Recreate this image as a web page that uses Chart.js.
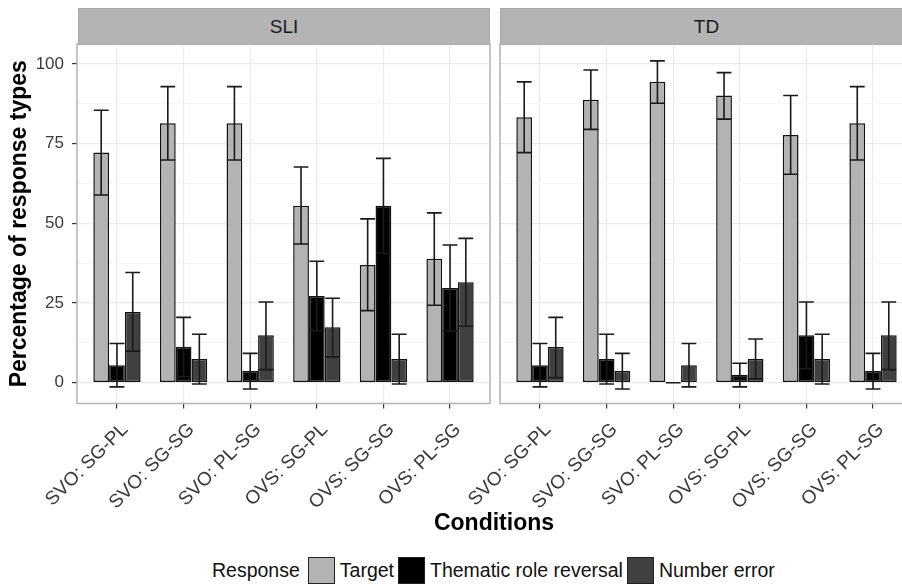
<!DOCTYPE html>
<html>
<head>
<meta charset="utf-8">
<script src="https://cdn.jsdelivr.net/npm/chart.js@4/dist/chart.umd.min.js"></script>
<style>
  html, body { margin:0; padding:0; width:902px; height:584px; overflow:hidden; background:#fff; font-family:"Liberation Sans", Arial, sans-serif; }
  #wrap { position:relative; width:902px; height:584px; overflow:hidden; }
  canvas { position:absolute; }
  .strip { position:absolute; top:8px; height:35px; background:#b4b4b4; border:1px solid #a6a6a6; border-bottom-color:#9a9a9a;
           color:#1a1a1a; font-size:19px; text-align:center; line-height:35px; box-sizing:content-box; }
  #xtitle { position:absolute; left:394px; width:200px; top:509px; text-align:center; font-weight:bold; font-size:23px; color:#000; }
  #legend { position:absolute; left:212px; top:556px; height:28px; display:flex; align-items:center; font-size:19.5px; color:#111; white-space:nowrap; }
  .key { width:25px; height:25px; border:1.5px solid #222; display:inline-block; }
</style>
</head>
<body>
<div id="wrap">
  <div class="strip" style="left:78px; width:410px;">SLI</div>
  <div class="strip" style="left:500px; width:411px;">TD</div>
  <canvas id="c1" width="492" height="470" style="left:0px; top:40px; width:492px; height:470px;"></canvas>
  <canvas id="c2" width="495" height="470" style="left:420px; top:40px; width:495px; height:470px;"></canvas>
  <div id="xtitle">Conditions</div>
  <div id="legend"></div>
</div>
<script>
// ---- data ----
const categories = ["SVO: SG-PL", "SVO: SG-SG", "SVO: PL-SG", "OVS: SG-PL", "OVS: SG-SG", "OVS: PL-SG"];
const seriesNames = ["Target", "Thematic role reversal", "Number error"];
const panels = ["SLI", "TD"];
const yMajorTicks = [0, 25, 50, 75, 100];
const yMinorTicks = [12.5, 37.5, 62.5, 87.5];

// SLI means and error bar [low, high]
const sliTarget   = [72.2, 81.4, 81.4, 55.5, 36.9, 38.9];
const sliTargetErr = [[58.9, 85.5], [69.9, 92.9], [69.9, 92.9], [43.5, 67.7], [22.6, 51.4], [24.3, 53.3]];
const sliThematic = [5.5, 11.2, 3.7, 27.2, 55.5, 29.7];
const sliThematicErr = [[-1.3, 12.3], [1.9, 20.5], [-2.0, 9.2], [16.3, 38.1], [40.6, 70.4], [16.2, 43.2]];
const sliNumber   = [22.2, 7.4, 14.9, 17.4, 7.4, 31.5];
const sliNumberErr = [[9.9, 34.6], [-0.4, 15.2], [4.1, 25.3], [8.1, 26.5], [-0.4, 15.2], [17.7, 45.3]];

// TD means and error bar [low, high]
const tdTarget   = [83.3, 88.8, 94.4, 90.1, 77.7, 81.4];
const tdTargetErr = [[72.2, 94.4], [79.5, 98.1], [87.7, 101.0], [82.7, 97.3], [65.4, 90.1], [69.9, 92.9]];
const tdThematic = [5.5, 7.4, 0, 2.5, 14.9, 3.7];
const tdThematicErr = [[-1.3, 12.3], [-0.4, 15.2], [0, 0], [-1.3, 6.1], [4.4, 25.3], [-2.0, 9.2]];
const tdNumber   = [11.2, 3.7, 5.5, 7.4, 7.4, 14.9];
const tdNumberErr = [[1.6, 20.5], [-2.0, 9.2], [-1.3, 12.3], [1.2, 13.7], [-0.4, 15.2], [4.1, 25.3]];

// ---- styles ----
const fills = ["#b3b3b3", "#000000", "#404040"];
const FONT = "'Liberation Sans', Arial, sans-serif";
const Y_MIN = -6.53, Y_MAX = 106.28;

const errorBarPlugin = {
  id: 'errorBars',
  afterDatasetsDraw(chart) {
    const ctx = chart.ctx;
    const ys = chart.scales.y;
    ctx.save();
    ctx.strokeStyle = '#1a1a1a';
    ctx.lineWidth = 1.6;
    chart.data.datasets.forEach((ds, d) => {
      const meta = chart.getDatasetMeta(d);
      meta.data.forEach((bar, i) => {
        const e = ds.errors[i];
        const x = bar.x, hw = bar.width * 0.47;
        const yl = ys.getPixelForValue(e[0]), yh = ys.getPixelForValue(e[1]);
        ctx.beginPath();
        ctx.moveTo(x, yl); ctx.lineTo(x, yh);
        ctx.moveTo(x - hw, yh); ctx.lineTo(x + hw, yh);
        ctx.moveTo(x - hw, yl); ctx.lineTo(x + hw, yl);
        ctx.stroke();
      });
    });
    ctx.restore();
  }
};
const borderPlugin = {
  id: 'panelBorder',
  afterDraw(chart) {
    const a = chart.chartArea, ctx = chart.ctx;
    ctx.save();
    ctx.strokeStyle = '#b3b3b3';
    ctx.lineWidth = 1.5;
    ctx.strokeRect(a.left, a.top, a.right - a.left, a.bottom - a.top);
    ctx.restore();
  }
};

function zeroPad(s) { s.paddingTop = 0; s.paddingBottom = 0; s.paddingLeft = 0; s.paddingRight = 0; }

function makeDatasets(vals, errs) {
  return vals.map((v, s) => ({
    label: seriesNames[s],
    data: v.map((y, i) => ({ x: i, y: y })),
    errors: errs[s],
    backgroundColor: fills[s],
    borderColor: '#111',
    borderWidth: 1.5,
    borderSkipped: false,
    categoryPercentage: 0.71,
    barPercentage: 1.0
  }));
}

function makeChart(id, vals, errs, showY, padLeft, padRight) {
  return new Chart(document.getElementById(id), {
    type: 'bar',
    data: { datasets: makeDatasets(vals, errs) },
    plugins: [errorBarPlugin, borderPlugin],
    options: {
      responsive: false,
      animation: false,
      layout: { autoPadding: false, padding: { top: 4, left: padLeft, right: padRight, bottom: 0 } },
      plugins: { legend: { display: false }, tooltip: { enabled: false } },
      scales: {
        x: {
          type: 'linear',
          offset: false,
          min: -0.6, max: categories.length - 0.4,
          afterBuildTicks: (s) => { s.ticks = categories.map((c, i) => ({ value: i })); },
          afterFit: (s) => { s.height = 106.5; zeroPad(s); },
          ticks: {
            autoSkip: false, minRotation: 45, maxRotation: 45, padding: 10, labelOffset: 8,
            color: '#3a3a3a', font: { family: FONT, size: 19 },
            callback: (v) => categories[v]
          },
          grid: { offset: false, color: '#ebebeb', lineWidth: 1.2, tickLength: 5, tickColor: '#333', tickWidth: 1.2 },
          border: { display: false }
        },
        y: {
          type: 'linear',
          min: Y_MIN, max: Y_MAX,
          afterBuildTicks: (s) => { s.ticks = yMajorTicks.concat(yMinorTicks).sort((a, b) => a - b).map(v => ({ value: v })); },
          afterFit: (s) => { s.width = showY ? 77 : 0; zeroPad(s); },
          ticks: {
            display: showY, padding: 8,
            color: '#3a3a3a', font: { family: FONT, size: 17 },
            callback: (v) => yMajorTicks.includes(v) ? String(v) : ''
          },
          title: {
            display: showY, text: 'Percentage of response types',
            color: '#000', font: { family: FONT, size: 23, weight: 'bold' },
            padding: { top: 6, bottom: 0 }
          },
          grid: {
            drawTicks: showY, tickLength: 5, tickWidth: 1.2,
            color: (c) => yMinorTicks.includes(c.tick.value) ? '#f4f4f4' : '#ebebeb',
            lineWidth: (c) => yMinorTicks.includes(c.tick.value) ? 0.8 : 1.2,
            tickColor: (c) => yMinorTicks.includes(c.tick.value) ? 'rgba(0,0,0,0)' : '#333'
          },
          border: { display: false }
        }
      }
    }
  });
}

makeChart('c1', [sliTarget, sliThematic, sliNumber], [sliTargetErr, sliThematicErr, sliNumberErr], true, 0, 2);
makeChart('c2', [tdTarget, tdThematic, tdNumber], [tdTargetErr, tdThematicErr, tdNumberErr], false, 80, 2);

// legend
const lg = document.getElementById('legend');
const title = document.createElement('span');
title.textContent = 'Response';
title.style.marginRight = '8px';
lg.appendChild(title);
seriesNames.forEach((n, i) => {
  const k = document.createElement('span');
  k.className = 'key';
  k.style.background = fills[i];
  k.style.marginRight = '5px';
  lg.appendChild(k);
  const t = document.createElement('span');
  t.textContent = n;
  t.style.marginRight = '4px';
  lg.appendChild(t);
});
</script>
</body>
</html>
